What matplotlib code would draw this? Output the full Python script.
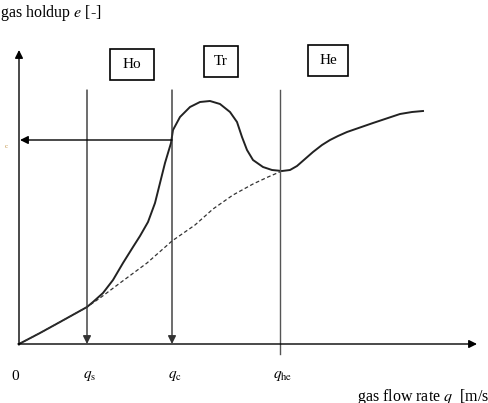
import matplotlib
matplotlib.use("Agg")
import matplotlib.pyplot as plt
from matplotlib.patches import Rectangle

plt.rcParams['font.family'] = ['Liberation Serif', 'DejaVu Serif']
plt.rcParams['mathtext.fontset'] = 'stix'

# schematic curves (q, e in drawing units, origin at the axes corner)
q_solid = [0, 21, 41, 68, 74, 84, 94, 104, 114, 121, 129, 136, 141, 146, 152,
           154, 161, 171, 181, 191, 201, 211, 218, 223, 228, 234, 244, 253, 263,
           271, 278, 286, 294, 303, 311, 319, 328, 354, 381, 393, 404]
e_solid = [0, 11, 22, 37, 42, 51, 64, 81, 97, 108, 122, 141, 161, 181, 201,
           214, 227, 237, 242, 243, 240, 232, 222, 207, 194, 184, 177, 174, 173,
           174, 178, 185, 192, 199, 204, 208, 212, 221, 230, 232, 233]

q_dash = [0, 21, 41, 68, 81, 101, 128, 153, 176, 194, 214, 234, 249, 263]
e_dash = [0, 11, 22, 37, 46, 61, 81, 103, 119, 135, 149, 160, 167, 173]

# characteristic flow rates and critical holdup
q_s, q_c, q_he = 68, 153, 261
e_c = 204
q_marks = [0, q_s, q_c, q_he]
q_labels = ['0', r'$q_\mathrm{s}$', r'$q_\mathrm{c}$', r'$q_\mathrm{he}$']

regimes = ['Ho', 'Tr', 'He']
regime_boxes = [(91, 264, 44, 31), (185, 267, 34, 31), (289, 268, 40, 31)]

fig = plt.figure(figsize=(4.89, 4.03), dpi=100)
ax = fig.add_axes([0, 0, 1, 1])
ax.set_xlim(-19, 470)
ax.set_ylim(-59, 344)
ax.axis('off')

arrow = dict(arrowstyle='-|>', color='black', lw=1, mutation_scale=12,
             shrinkA=0, shrinkB=0)

# axes with arrows
ax.annotate('', xy=(0, 294), xytext=(0, -1), arrowprops=arrow)
ax.annotate('', xy=(458, 0), xytext=(-1, 0), arrowprops=arrow)

# curves
ax.plot(q_solid, e_solid, color='#222222', lw=1.4, solid_joinstyle='round')
ax.plot(q_dash, e_dash, color='#333333', lw=0.9, ls=(0, (3, 2)))

# vertical lines
line_top = 254
ax.annotate('', xy=(q_s, 0), xytext=(q_s, line_top), arrowprops=dict(arrow, color='#333333'))
ax.annotate('', xy=(q_c, 0), xytext=(q_c, line_top), arrowprops=dict(arrow, color='#333333'))
ax.plot([q_he, q_he], [line_top, -10], color='#555555', lw=1)

# horizontal arrow to e_c
ax.annotate('', xy=(1, e_c), xytext=(q_c, e_c), arrowprops=arrow)
ax.text(-13, e_c - 7, 'c', fontsize=5, color='#c09040', ha='center', va='center')

# regime boxes
for name, (x0, y0, w, h) in zip(regimes, regime_boxes):
    ax.add_patch(Rectangle((x0, y0), w, h, fill=False, ec='black', lw=1.2))
    ax.text(x0 + w / 2, y0 + h / 2, name, fontsize=11, ha='center', va='center')

# tick labels
for qm, lab in zip(q_marks, q_labels):
    ax.text(qm + (-4 if qm == 0 else 3), -32, lab, fontsize=11 if qm == 0 else 11,
            ha='center', va='center')

ax.text(-19, 331, r'gas holdup $e$ [-]', fontsize=11.5, ha='left', va='center')
ax.text(338, -53, r'gas flow rate $q$  [m/s]', fontsize=11.5, ha='left', va='center')

fig.savefig('out.png', dpi=100)
